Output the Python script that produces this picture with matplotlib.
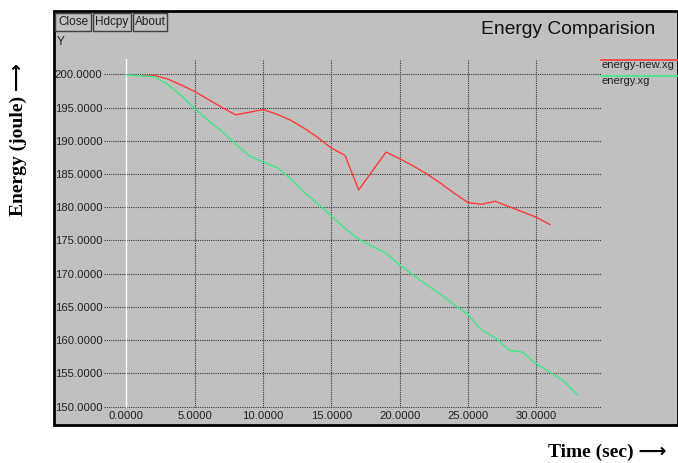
import matplotlib
matplotlib.use("Agg")
import matplotlib.pyplot as plt
from matplotlib.patches import Rectangle

# data
t_new = [1.2, 2, 3, 4, 5, 6, 7, 8, 9, 10, 11, 12, 13, 14, 15, 16, 17, 19, 20,
         21, 22, 23, 24, 25, 26, 27, 28, 29, 30, 31]
e_new = [199.7, 199.85, 199.3, 198.4, 197.4, 196.2, 195.0, 193.9, 194.3, 194.7,
         194.0, 193.1, 191.9, 190.5, 188.9, 187.8, 182.6, 188.3, 187.3,
         186.2, 185.0, 183.6, 182.1, 180.7, 180.45, 180.9, 180.1, 179.3, 178.5, 177.4]

t_old = list(range(0, 34))
e_old = [199.9, 199.75, 199.65, 198.5, 196.8, 194.85, 193.0, 191.4, 189.5, 187.7,
         186.8, 186.0, 184.3, 182.3, 180.5, 178.7, 176.8, 175.2, 174.1, 173.1,
         171.3, 169.8, 168.3, 166.9, 165.3, 163.9, 161.5, 160.4, 158.5, 158.2,
         156.4, 155.2, 153.9, 151.8]

series_names = ["energy-new.xg", "energy.xg"]
series_colors = ["#ff3a3a", "#3de88a"]
x_ticks = [0, 5, 10, 15, 20, 25, 30]
y_ticks = [150, 155, 160, 165, 170, 175, 180, 185, 190, 195, 200]
buttons = ["Close", "Hdcpy", "About"]

W, H = 678, 463
gray = "#c0c0c0"
font = "Liberation Sans"
serif = ["Liberation Serif", "DejaVu Sans"]

fig = plt.figure(figsize=(W / 100, H / 100), dpi=100)
fig.patch.set_facecolor("white")

def fx(px):
    return px / W

def fy(py):
    return 1 - py / H

# xgraph window
fig.patches.append(Rectangle((fx(54), fy(425)), fx(W) - fx(54), fy(11) - fy(425),
                             transform=fig.transFigure, facecolor=gray,
                             edgecolor="black", linewidth=2, zorder=0))

# buttons
bx = [(55, 91), (93, 131), (133, 167)]
for name, (x0, x1) in zip(buttons, bx):
    fig.patches.append(Rectangle((fx(x0), fy(31)), fx(x1) - fx(x0), fy(13) - fy(31),
                                 transform=fig.transFigure, facecolor=gray,
                                 edgecolor="#404040", linewidth=1, zorder=1))
    fig.text(fx((x0 + x1) / 2), fy(22), name, ha="center", va="center",
             fontsize=8.5, family=font, color="#202020")

fig.text(fx(57), fy(42), "Y", ha="left", va="center", fontsize=8.5,
         family=font, color="#202020")
fig.text(fx(568), fy(29), "Energy Comparision", ha="center", va="center",
         fontsize=13.9, family=font, color="#101010")

ax = fig.add_axes([fx(104), fy(408), fx(601) - fx(104), fy(59) - fy(408)])
ax.set_zorder(3)
ax.patch.set_alpha(0)
for s in ax.spines.values():
    s.set_visible(False)

ax.set_xlim(-1.647, 34.74)
ax.set_ylim(149.8, 202.3)

for yv in y_ticks:
    ax.axhline(yv, color="#383838", linestyle=(0, (1, 1)), linewidth=0.8, zorder=1)
for xv in x_ticks[1:]:
    ax.axvline(xv, color="#383838", linestyle=(0, (1, 1)), linewidth=0.8, zorder=1)
ax.axvline(0, color="white", linewidth=1, zorder=1)

ax.plot(t_new, e_new, color=series_colors[0], linewidth=1, zorder=3)
ax.plot(t_old, e_old, color=series_colors[1], linewidth=1, zorder=3)

ax.set_xticks(x_ticks)
ax.set_xticklabels([f"{v:.4f}" for v in x_ticks])
ax.set_yticks(y_ticks)
ax.set_yticklabels([f"{v:.4f}" for v in y_ticks])
ax.tick_params(length=0, labelsize=8.1, colors="#202020")
ax.tick_params(axis="y", pad=1)
ax.tick_params(axis="x", pad=2)
for lab in ax.get_xticklabels() + ax.get_yticklabels():
    lab.set_family(font)

# legend like xgraph: line above each name
for i, (name, col) in enumerate(zip(series_names, series_colors)):
    yl = 60 + 16 * i
    fig.add_artist(plt.Line2D([fx(601), fx(W)], [fy(yl), fy(yl)], color=col,
                              linewidth=1.2, transform=fig.transFigure))
    fig.text(fx(602), fy(yl + 5), name, ha="left", va="center", fontsize=8,
             family=font, color="#202020")

# outer axis captions
fig.text(fx(18), fy(140), "Energy (joule) \u27f6", rotation=90, ha="center",
         va="center", fontsize=14, fontweight="bold", family=serif)
fig.text(fx(666), fy(452), "Time (sec) \u27f6", ha="right", va="center",
         fontsize=14, fontweight="bold", family=serif)

fig.savefig("out.png", dpi=100)
